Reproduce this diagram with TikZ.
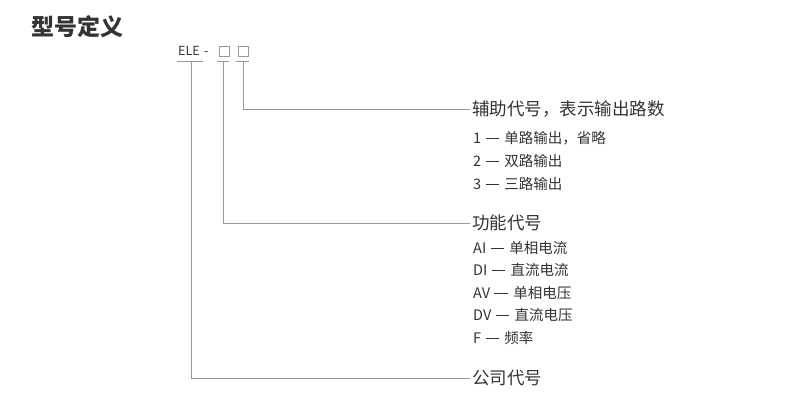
\documentclass[tikz,border=0pt]{standalone}
\usepackage{fontspec}
\setmainfont{Noto Sans CJK SC}
\definecolor{txt}{HTML}{333333}
\definecolor{ln}{HTML}{9A9A9A}
\newcommand{\bardash}{\hspace{0.3em}\rule[0.33em]{0.9em}{0.07em}\hspace{0.4em}}
\begin{document}
\begin{tikzpicture}[x=1pt,y=-1pt,
  head/.style={anchor=west, inner sep=0pt, outer sep=2pt, text=txt, font=\fontsize{17.5}{17.5}\selectfont},
  item/.style={anchor=west, inner sep=0pt, text=txt, font=\fontsize{14.5}{14.5}\selectfont},
  box/.style={draw=ln, line width=0.8pt, minimum size=10pt, inner sep=0pt},
  conn/.style={draw=ln, line width=1pt},
  ]
\useasboundingbox (0,0) rectangle (790,400);
\node[anchor=west, inner sep=0pt, text=txt, font=\fontsize{23}{23}\selectfont\bfseries] (title) at (31,27) {型号定义};
\node[anchor=west, inner sep=0pt, text=txt, font=\fontsize{12.5}{12.5}\selectfont] (ele) at (178,51) {ELE\hspace{0.35em}-};
\node[box] (b1) at (224,51) {};
\node[box] (b2) at (243.5,51) {};
% underlines
\coordinate (u1a) at (177,61); \coordinate (u1b) at (203,61);
\coordinate (u2a) at (217,61); \coordinate (u2b) at (229,61);
\coordinate (u3a) at (236,61); \coordinate (u3b) at (249,61);
\draw[conn] (u1a) -- (u1b);
\draw[conn] (u2a) -- (u2b);
\draw[conn] (u3a) -- (u3b);
\coordinate (v1) at (191,61);
\coordinate (v2) at (223,61);
\coordinate (v3) at (243,61);
% headers
\node[head] (h1) at (470,109) {辅助代号，表示输出路数};
\node[head] (h2) at (470,223) {功能代号};
\node[head] (h3) at (470,378) {公司代号};
% items
\node[item] (i11) at (473,138) {1\bardash 单路输出，省略};
\node[item] (i12) at (473,161) {2\bardash 双路输出};
\node[item] (i13) at (473,184) {3\bardash 三路输出};
\node[item] (i21) at (473,248) {AI\bardash 单相电流};
\node[item] (i22) at (473,270) {DI\bardash 直流电流};
\node[item] (i23) at (473,293) {AV\bardash 单相电压};
\node[item] (i24) at (473,315) {DV\bardash 直流电压};
\node[item] (i25) at (473,338) {F\bardash 频率};
% connectors
\draw[conn] (v3) |- (h1.west);
\draw[conn] (v2) |- (h2.west);
\draw[conn] (v1) |- (h3.west);
\end{tikzpicture}
\end{document}
